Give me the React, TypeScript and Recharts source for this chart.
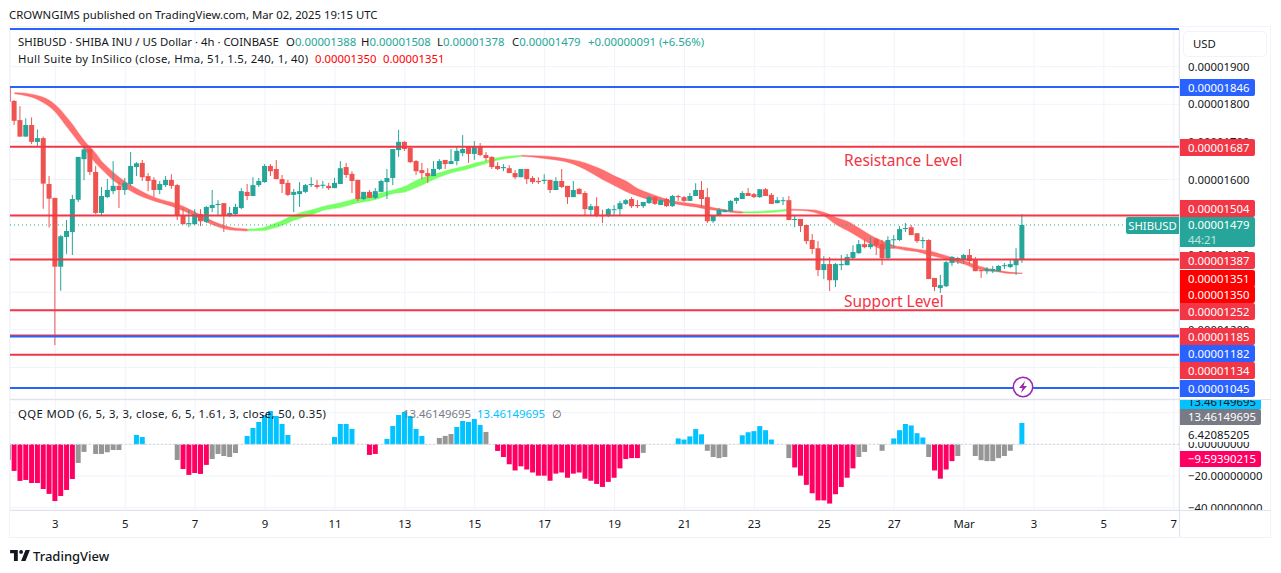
import { Area, Bar, CartesianGrid, ComposedChart, ReferenceLine, XAxis, YAxis } from "recharts";

// prices are in units of 0.00000001 USD, one entry per 4h candle
const opens = [
  1847, 1809, 1758, 1714, 1745, 1700, 1710, 1588, 1551, 1368,
  1447, 1460, 1546, 1654, 1681, 1620, 1511, 1553, 1569, 1583,
  1572, 1588, 1633, 1644, 1609, 1599, 1572, 1585, 1599, 1585,
  1505, 1481, 1481, 1508, 1487, 1524, 1532, 1537, 1503, 1508,
  1524, 1567, 1556, 1585, 1593, 1636, 1628, 1601, 1591, 1559,
  1561, 1567, 1585, 1585, 1583, 1583, 1577, 1588, 1633, 1615,
  1599, 1548, 1567, 1551, 1567, 1593, 1604, 1678, 1700, 1684,
  1649, 1625, 1617, 1609, 1628, 1652, 1641, 1649, 1670, 1689,
  1668, 1689, 1665, 1660, 1636, 1630, 1630, 1617, 1606, 1628,
  1604, 1596, 1596, 1599, 1572, 1596, 1583, 1553, 1575, 1564,
  1519, 1529, 1505, 1503, 1519, 1521, 1535, 1548, 1532, 1529,
  1537, 1553, 1532, 1548, 1529, 1556, 1553, 1543, 1556, 1572,
  1553, 1489, 1503, 1513, 1516, 1543, 1548, 1564, 1561, 1553,
  1574, 1559, 1537, 1543, 1545, 1492, 1495, 1479, 1439, 1417,
  1359, 1375, 1332, 1372, 1372, 1391, 1404, 1428, 1420, 1441,
  1428, 1391, 1439, 1439, 1468, 1473, 1457, 1436, 1439, 1338,
  1311, 1316, 1378, 1388, 1386, 1399, 1386, 1359, 1356, 1356,
  1356, 1370, 1367, 1372, 1388,
];
const highs = [
  1847, 1811, 1795, 1763, 1765, 1733, 1714, 1609, 1551, 1452,
  1492, 1559, 1660, 1690, 1690, 1636, 1580, 1601, 1649, 1593,
  1604, 1673, 1646, 1652, 1617, 1606, 1596, 1609, 1614, 1588,
  1524, 1519, 1521, 1521, 1529, 1572, 1545, 1537, 1527, 1535,
  1577, 1588, 1606, 1604, 1641, 1641, 1652, 1612, 1599, 1575,
  1593, 1588, 1606, 1599, 1596, 1591, 1604, 1649, 1644, 1622,
  1599, 1567, 1572, 1577, 1599, 1628, 1681, 1732, 1702, 1686,
  1652, 1644, 1630, 1649, 1654, 1652, 1681, 1689, 1718, 1689,
  1702, 1697, 1673, 1662, 1646, 1641, 1638, 1625, 1628, 1628,
  1609, 1606, 1614, 1599, 1606, 1628, 1583, 1596, 1577, 1569,
  1535, 1553, 1519, 1524, 1532, 1543, 1548, 1553, 1545, 1540,
  1556, 1556, 1548, 1551, 1559, 1559, 1556, 1564, 1590, 1596,
  1577, 1505, 1524, 1521, 1545, 1553, 1569, 1577, 1564, 1574,
  1577, 1564, 1553, 1553, 1556, 1503, 1495, 1479, 1455, 1436,
  1396, 1394, 1378, 1399, 1402, 1425, 1439, 1441, 1447, 1444,
  1439, 1449, 1452, 1476, 1484, 1479, 1457, 1447, 1441, 1338,
  1346, 1383, 1396, 1394, 1402, 1415, 1394, 1359, 1367, 1370,
  1372, 1378, 1386, 1417, 1508,
];
const lows = [
  1807, 1745, 1714, 1714, 1694, 1689, 1522, 1472, 1159, 1304,
  1402, 1399, 1540, 1598, 1612, 1508, 1505, 1551, 1561, 1524,
  1559, 1583, 1609, 1596, 1569, 1553, 1561, 1580, 1575, 1492,
  1481, 1473, 1479, 1476, 1484, 1513, 1505, 1460, 1500, 1505,
  1521, 1545, 1556, 1580, 1591, 1609, 1601, 1564, 1556, 1513,
  1527, 1564, 1580, 1575, 1576, 1572, 1577, 1588, 1604, 1564,
  1543, 1545, 1551, 1548, 1567, 1548, 1585, 1660, 1676, 1644,
  1612, 1601, 1591, 1609, 1625, 1628, 1641, 1638, 1662, 1644,
  1652, 1662, 1649, 1628, 1625, 1622, 1617, 1601, 1606, 1588,
  1588, 1588, 1588, 1564, 1572, 1577, 1535, 1553, 1561, 1503,
  1503, 1500, 1484, 1500, 1503, 1503, 1532, 1524, 1524, 1524,
  1535, 1532, 1532, 1527, 1527, 1543, 1540, 1543, 1556, 1524,
  1484, 1484, 1503, 1513, 1513, 1535, 1548, 1556, 1551, 1551,
  1556, 1535, 1537, 1532, 1492, 1473, 1460, 1428, 1402, 1343,
  1335, 1303, 1314, 1359, 1372, 1388, 1402, 1417, 1415, 1399,
  1372, 1388, 1417, 1436, 1460, 1452, 1431, 1417, 1335, 1303,
  1298, 1314, 1370, 1375, 1375, 1375, 1356, 1338, 1348, 1351,
  1356, 1362, 1364, 1346, 1378,
];
const closes = [
  1807, 1756, 1714, 1745, 1700, 1710, 1589, 1549, 1368, 1449,
  1463, 1548, 1660, 1680, 1620, 1511, 1556, 1572, 1583, 1572,
  1591, 1636, 1643, 1606, 1596, 1572, 1588, 1599, 1583, 1503,
  1481, 1484, 1508, 1489, 1527, 1532, 1535, 1503, 1511, 1527,
  1569, 1556, 1585, 1596, 1636, 1622, 1601, 1588, 1559, 1567,
  1569, 1585, 1588, 1580, 1586, 1577, 1591, 1630, 1612, 1596,
  1548, 1567, 1551, 1569, 1596, 1604, 1681, 1700, 1681, 1646,
  1622, 1617, 1609, 1628, 1649, 1641, 1649, 1676, 1681, 1668,
  1689, 1665, 1657, 1633, 1628, 1633, 1617, 1606, 1628, 1601,
  1593, 1593, 1599, 1572, 1596, 1580, 1553, 1572, 1561, 1521,
  1529, 1503, 1503, 1521, 1521, 1537, 1545, 1529, 1529, 1540,
  1553, 1535, 1545, 1529, 1556, 1553, 1543, 1556, 1572, 1548,
  1489, 1505, 1519, 1519, 1543, 1551, 1564, 1556, 1553, 1574,
  1556, 1535, 1545, 1545, 1492, 1495, 1476, 1436, 1415, 1359,
  1375, 1332, 1375, 1375, 1394, 1407, 1428, 1420, 1428, 1425,
  1391, 1439, 1441, 1468, 1471, 1452, 1436, 1439, 1335, 1314,
  1319, 1380, 1394, 1391, 1399, 1383, 1356, 1356, 1362, 1362,
  1370, 1372, 1375, 1386, 1479,
];

// hull band, read every candle or two
const hullIndex = [
  1, 3, 5, 6, 7, 8, 9, 10, 11, 12, 13, 14, 15, 16, 17, 18, 20, 22, 24, 26, 28, 30, 32, 34, 36, 38, 40, 41,
  42, 43, 44, 45, 46, 47, 48, 49, 50, 52, 54, 57, 60, 63, 66, 68, 70, 72, 74, 76, 78, 80, 82, 84, 86, 88,
  90, 92, 94, 96, 98, 100, 102, 104, 106, 108, 110, 112, 114, 116, 118, 120, 122, 124, 126, 128, 130, 132,
  134, 136, 138, 140, 142, 144, 146, 148, 150, 152, 154, 156, 158, 160, 162, 164, 166, 168, 170, 172, 174,
];
const hullUpper = [
  1831, 1829, 1823, 1818, 1810, 1798, 1783, 1764, 1745, 1723, 1702, 1685, 1668, 1647, 1632, 1618, 1594, 1575, 1559, 1547, 1539, 1528, 1513, 1497, 1483, 1473, 1469, 1468,
  1468, 1470, 1473, 1478, 1485, 1491, 1499, 1505, 1511, 1519, 1528, 1538, 1551, 1561, 1572, 1581, 1597, 1609, 1618, 1627, 1634, 1643, 1650, 1658, 1662, 1664,
  1663, 1662, 1659, 1654, 1648, 1638, 1625, 1609, 1595, 1575, 1563, 1552, 1543, 1538, 1534, 1528, 1522, 1517, 1514, 1514, 1516, 1518,
  1521, 1520, 1519, 1512, 1499, 1488, 1470, 1451, 1436, 1424, 1419, 1414, 1410, 1401, 1392, 1384, 1372, 1363, 1357, 1353, 1351,
];
const hullLower = [
  1828, 1823, 1813, 1804, 1794, 1780, 1761, 1740, 1720, 1700, 1681, 1662, 1643, 1627, 1612, 1598, 1578, 1561, 1548, 1538, 1529, 1517, 1503, 1487, 1474, 1466, 1464, 1463,
  1464, 1464, 1465, 1469, 1473, 1479, 1485, 1492, 1497, 1506, 1518, 1526, 1538, 1547, 1563, 1567, 1579, 1593, 1607, 1618, 1625, 1634, 1643, 1652, 1657, 1662,
  1660, 1656, 1652, 1646, 1634, 1618, 1600, 1584, 1568, 1556, 1547, 1543, 1536, 1531, 1527, 1521, 1517, 1513, 1511, 1511, 1512, 1514,
  1518, 1518, 1514, 1503, 1481, 1464, 1446, 1428, 1416, 1417, 1412, 1408, 1399, 1392, 1383, 1375, 1363, 1357, 1354, 1350, 1350,
];
const hullTurns = [1, 41, 88, 126, 134, 174];

// QQE histogram, value per candle and its colour: p pink, b blue, g grey, . nothing
const qqeValues = [
  -9.9, -16.8, -23.1, -22.5, -24.4, -24.4, -28.2, -31.3, -35.8, -32.6,
  -28.8, -21.9, -11.8, -4.8, 0, -6.1, -6.1, -5.0, -3.6, -3.6,
  0, 0, 5.9, 4.6, 0, 0, 0, 0, 0, -9.9,
  -15.6, -19.3, -18.1, -18.7, -13.0, -9.3, -6.1, -7.4, -8.0, -5.5,
  0, 5.3, 10.3, 14.1, 18.5, 21, 17.9, 12.8, 5.9, 0,
  0, 0, 0, 0, 0, 0, 4.6, 12.8, 12.8, 9.7,
  0, 0, -6.7, -6.1, 0, 3.4, 11.6, 18.5, 20.4, 17.9,
  9.7, 5.3, 0, 0, 4.0, 5.3, 6.5, 10.9, 14.7, 14.1,
  16, 12.2, 7.8, 0, -4.2, -8.0, -12.6, -16.5, -13.9, -15.9,
  -17.8, -19.8, -19.8, -23.0, -18.5, -17.8, -21.1, -18.5, -17.8, -21.7,
  -23.0, -25.0, -26.9, -23.7, -21.1, -15.2, -9.3, -8.7, -8.7, -5.4,
  0, 0, 0, 0, 0, 3.7, 3.0, 5.0, 9.6, 6.3,
  -4.1, -8.0, -8.7, -8.0, 0, 0, 5.7, 7.6, 8.3, 11.5,
  8.9, 3.0, 0, 0, -8.7, -14.6, -19.8, -25.6, -30.9, -35.4,
  -35.4, -37.4, -31.5, -26.9, -21.1, -15.2, -8.0, -4.8, 0, 0,
  -4.1, 0, 3.7, 8.9, 12.8, 11.9, 7.0, 4.3, -8.0, -16.5,
  -21.7, -15.9, -10.6, -7.4, 0, 0, -7.4, -10, -10.6, -10.6,
  -8.7, -7.4, -4.1, 0, 13.46,
];
const qqeKinds =
  "gppppppppppp" + "gg.ggggg..bb.....g" + "pppppggggg.bbbbbbbb......." + "bbbb..pp.bbbbbbb..gggbbbbbg." +
  "ppppppppppppppppppppppppp" + "g.....bbbbbgggg..bbbbbb..g" + "ppppppppppp" + "gg..g.bbbbbbgppppg..ggggggg.b";

const dayTicks = [8, 20, 32, 44, 56, 68, 80, 92, 104, 116, 128, 140, 152, 164, 176, 188, 200];
const dayLabels = ["3", "5", "7", "9", "11", "13", "15", "17", "19", "21", "23", "25", "27", "Mar", "3", "5", "7"];
const priceTicks = [1100, 1200, 1300, 1400, 1500, 1600, 1700, 1800, 1900];
const qqeTicks = [20, 0, -20, -40];
const redLevels = [1687, 1504, 1387, 1252, 1185, 1134];
const blueLevels = [2000, 1846, 1182, 1045];
const lastPrice = 1479;

const RED = "#F23645";
const BLUE = "#2962FF";
const TEAL = "#26A69A";
const UP = "#26A69A";
const DOWN = "#EF5350";
const FONT = "'Noto Sans', sans-serif";
const FS = 11.35;
const GRID = "#F0F3FA";
const xDomain = [0.223, 200.9];

const candles = opens.map((open, i) => ({ i, open, high: highs[i], low: lows[i], close: closes[i] }));
const hullRows = hullIndex.map((i, k) => ({ i, band: [hullLower[k], hullUpper[k]] }));
const hullSegments = hullTurns.slice(1).map((to, k) => ({
  color: k % 2 === 0 ? "#FF5252" : "#5CFF45",
  rows: hullRows.filter((r) => r.i >= hullTurns[k] && r.i <= to),
}));
const qqeRows = qqeValues.map((v, i) => ({
  i,
  pink: qqeKinds[i] === "p" ? v : null,
  blue: qqeKinds[i] === "b" ? v : null,
  grey: qqeKinds[i] === "g" ? v : null,
}));

const priceTags = [
  { text: "0.00001846", y: 87.5, bg: BLUE },
  { text: "0.00001687", y: 147, bg: RED },
  { text: "0.00001504", y: 208, bg: RED },
  { text: "0.00001387", y: 260, bg: RED },
  { text: "0.00001351", y: 278, bg: "#FF0000" },
  { text: "0.00001350", y: 294.5, bg: "#FF0000" },
  { text: "0.00001252", y: 311, bg: RED },
  { text: "0.00001185", y: 336.5, bg: RED },
  { text: "0.00001182", y: 353, bg: BLUE },
  { text: "0.00001134", y: 370.5, bg: RED },
  { text: "0.00001045", y: 388, bg: BLUE },
];

const formatPrice = (v: number) => (v / 1e8).toFixed(8);
const formatQqe = (v: number) => (v < 0 ? "\u2212" + (-v).toFixed(8) : v.toFixed(8));
const formatDay = (v: number) => dayLabels[dayTicks.indexOf(v)] ?? "";

function Candle(props: any) {
  const { x, y, width, height, payload } = props;
  const top = Math.min(y, y + height);
  const h = Math.abs(height);
  const span = payload.high - payload.low || 1;
  const at = (v: number) => top + ((payload.high - v) / span) * h;
  const color = payload.close >= payload.open ? UP : DOWN;
  const bodyTop = at(Math.max(payload.open, payload.close));
  const bodyBottom = at(Math.min(payload.open, payload.close));
  const cx = x + width / 2;
  return (
    <g>
      <line x1={cx} x2={cx} y1={top} y2={top + h} stroke={color} strokeWidth={1} />
      <rect x={x} y={bodyTop} width={width} height={Math.max(bodyBottom - bodyTop, 1)} fill={color} />
    </g>
  );
}

function Tag({ text, y, bg, w = 75, h = 17, x = 1180, color = "#fff" }: any) {
  return (
    <div
      style={{
        position: "absolute", left: x, top: y - h / 2, width: w, height: h, lineHeight: h + "px",
        background: bg, color, fontSize: FS, paddingLeft: 8, boxSizing: "border-box",
        borderRadius: "0 2px 2px 0", whiteSpace: "nowrap",
      }}
    >
      {text}
    </div>
  );
}

function Txt({ x, y, color = "#131722", size = FS, children, spacing = 0 }: any) {
  return (
    <div
      style={{
        position: "absolute", left: x, top: y - 10, height: 20, lineHeight: "20px", color,
        fontSize: size, whiteSpace: "nowrap", letterSpacing: spacing,
      }}
    >
      {children}
    </div>
  );
}

function Box({ x, y, w, h, bg }: any) {
  return <div style={{ position: "absolute", left: x, top: y, width: w, height: h, background: bg }} />;
}

export default function App() {
  return (
    <div style={{ position: "absolute", left: 0, top: 0, width: 1281, height: 573, background: "#fff", fontFamily: FONT, overflow: "hidden" }}>
      <div style={{ position: "absolute", left: 0, top: 0 }}>
        <ComposedChart width={1281} height={400} data={candles} margin={{ top: 29, right: 0, bottom: 1, left: 10 }}>
          <CartesianGrid stroke={GRID} strokeWidth={1} />
          <XAxis dataKey="i" type="number" domain={xDomain} ticks={dayTicks} allowDataOverflow hide />
          <YAxis
            orientation="right" width={102} domain={[1016, 2000.3]} ticks={priceTicks} interval={0}
            tickFormatter={formatPrice} tick={{ fontSize: FS, fill: "#131722", fontFamily: FONT }}
            axisLine={false} tickLine={false} tickSize={0} tickMargin={9} allowDataOverflow
          />
          {hullSegments.map((s, k) => (
            <Area
              key={k} data={s.rows} dataKey="band" type="monotone" stroke={s.color} strokeWidth={1.2} strokeOpacity={0.4}
              fill={s.color} fillOpacity={0.82} isAnimationActive={false} dot={false} activeDot={false}
            />
          ))}
          <Bar dataKey={(d: any) => [d.low, d.high]} barSize={5} shape={<Candle />} isAnimationActive={false} />
          <ReferenceLine y={lastPrice} stroke={TEAL} strokeDasharray="1 3" />
          {redLevels.map((v) => (
            <ReferenceLine key={v} y={v} stroke={RED} strokeWidth={2} />
          ))}
          {blueLevels.map((v) => (
            <ReferenceLine key={v} y={v} stroke={BLUE} strokeWidth={2} />
          ))}
        </ComposedChart>
      </div>

      <div style={{ position: "absolute", left: 0, top: 400 }}>
        <ComposedChart width={1281} height={140} data={qqeRows} margin={{ top: 0, right: 0, bottom: 0, left: 10 }} stackOffset="sign">
          <CartesianGrid stroke={GRID} strokeWidth={1} />
          <XAxis
            dataKey="i" type="number" domain={xDomain} ticks={dayTicks} interval={0} allowDataOverflow height={30}
            tickFormatter={formatDay} tick={{ fontSize: FS, fill: "#131722", fontFamily: FONT }}
            axisLine={false} tickLine={false} tickSize={0} tickMargin={10}
          />
          <YAxis
            orientation="right" width={102} domain={[-41.45, 27.95]} ticks={qqeTicks} interval={0}
            tickFormatter={formatQqe} tick={{ fontSize: FS, fill: "#131722", fontFamily: FONT }}
            axisLine={false} tickLine={false} tickSize={0} tickMargin={9} allowDataOverflow
          />
          <ReferenceLine y={0} stroke="#D1D4DC" strokeDasharray="2 2" />
          <Bar dataKey="pink" stackId="q" fill="#FF0062" barSize={5} isAnimationActive={false} />
          <Bar dataKey="blue" stackId="q" fill="#00C3FF" barSize={5} isAnimationActive={false} />
          <Bar dataKey="grey" stackId="q" fill="#969696" barSize={5} isAnimationActive={false} />
        </ComposedChart>
      </div>

      {/* pane frame */}
      <Box x={9} y={26} w={1} h={512} bg="#F0F3FA" />
      <Box x={9} y={26} w={1262} h={1} bg="#F0F3FA" />
      <Box x={9} y={537} w={1262} h={1} bg="#F0F3FA" />
      <Box x={1179} y={29} w={1} h={508} bg="#E0E3EB" />
      <Box x={1270} y={26} w={1} h={512} bg="#F0F3FA" />
      <Box x={10} y={399} w={1261} h={1} bg="#E0E3EB" />
      <Box x={10} y={510} w={1261} h={1} bg="#E0E3EB" />
      <Box x={1180} y={511} w={90} h={16} bg="#fff" />

      <Txt x={9} y={15}>CROWNGIMS published on TradingView.com, Mar 02, 2025 19:15 UTC</Txt>
      <Txt x={18} y={42}>SHIBUSD · SHIBA INU / US Dollar · 4h · COINBASE</Txt>
      <Txt x={286} y={42}>O<span style={{ color: TEAL }}>0.00001388</span></Txt>
      <Txt x={361} y={42}>H<span style={{ color: TEAL }}>0.00001508</span></Txt>
      <Txt x={437} y={42}>L<span style={{ color: TEAL }}>0.00001378</span></Txt>
      <Txt x={512} y={42}>C<span style={{ color: TEAL }}>0.00001479</span></Txt>
      <Txt x={588} y={42} color={TEAL}>+0.00000091 (+6.56%)</Txt>
      <Txt x={18} y={59} spacing={0.3}>Hull Suite by InSilico (close, Hma, 51, 1.5, 240, 1, 40)</Txt>
      <Txt x={315} y={59} color="#FF0000">0.00001350</Txt>
      <Txt x={383} y={59} color="#FF0000">0.00001351</Txt>
      <Txt x={18} y={414} spacing={0.35}>QQE MOD (6, 5, 3, 3, close, 6, 5, 1.61, 3, close, 50, 0.35)</Txt>
      <Txt x={403} y={414} color="#787B86">13.46149695</Txt>
      <Txt x={477} y={414} color="#00C3FF">13.46149695</Txt>
      <Txt x={552} y={414} color="#555">∅</Txt>

      <Txt x={844} y={160} color={RED} size={15.5}>Resistance Level</Txt>
      <Txt x={844} y={301} color={RED} size={15.5}>Support Level</Txt>

      <div style={{ position: "absolute", left: 1183, top: 31, width: 84, height: 26, border: "1px solid #F0F3FA", borderRadius: 5, boxSizing: "border-box", fontSize: FS, lineHeight: "24px", paddingLeft: 9, color: "#131722" }}>USD</div>

      {priceTags.map((t) => (
        <Tag key={t.text + t.y} text={t.text} y={t.y} bg={t.bg} />
      ))}
      <div style={{ position: "absolute", left: 1180, top: 217, width: 75, height: 30, background: TEAL, borderRadius: "0 2px 2px 0", color: "#fff", fontSize: FS, paddingLeft: 8, boxSizing: "border-box", lineHeight: "15px" }}>
        <div>0.00001479</div>
        <div style={{ opacity: 0.7 }}>44:21</div>
      </div>
      <div style={{ position: "absolute", left: 1126, top: 217, width: 53, height: 17, background: TEAL, borderRadius: "2px 0 0 2px", color: "#fff", fontSize: FS, lineHeight: "17px", textAlign: "center" }}>SHIBUSD</div>

      <div style={{ position: "absolute", left: 1180, top: 400, width: 81, height: 9, background: "#00C3FF", overflow: "hidden", color: "#131722", fontSize: FS, lineHeight: "3px", paddingLeft: 8, boxSizing: "border-box", whiteSpace: "nowrap" }}>13.46149695</div>
      <Tag text="13.46149695" y={417} bg="#787B86" w={81} h={16} />
      <Box x={1180} y={427} w={85} h={15} bg="#fff" />
      <Txt x={1188} y={435}>6.42085205</Txt>
      <Tag text={"\u22129.59390215"} y={459} bg="#FF0062" w={81} h={16} />

      <svg width={22} height={22} style={{ position: "absolute", left: 1011.5, top: 375.5 }} viewBox="0 0 22 22">
        <circle cx={11} cy={11} r={9.7} fill="#fff" stroke="#9C27B0" strokeWidth={1.5} />
        <path d="M13 5 L7 12 H10.5 L9 17 L15 10 H11.5 Z" fill="#9C27B0" />
      </svg>

      <svg width={20} height={11} style={{ position: "absolute", left: 10, top: 550 }} viewBox="0 0 36 20">
        <path d="M14 0H0v6h7v14h7V0Z M28 20h-8L28 0h8L28 20Z" fill="#131722" />
        <circle cx={20} cy={3.5} r={3.5} fill="#131722" />
      </svg>
      <div style={{ position: "absolute", left: 33, top: 546, height: 20, lineHeight: "20px", fontSize: 13, fontWeight: 500, color: "#131722" }}>TradingView</div>
    </div>
  );
}
